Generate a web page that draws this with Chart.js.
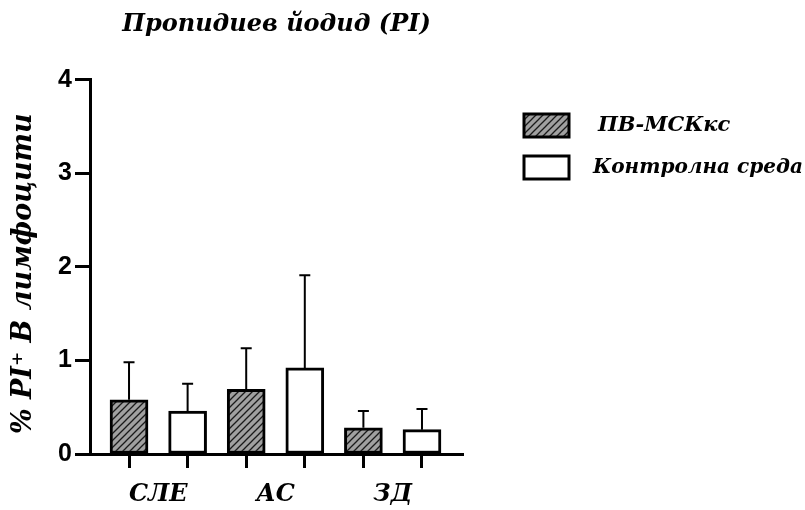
<!DOCTYPE html>
<html><head><meta charset="utf-8">
<script src="https://cdn.jsdelivr.net/npm/chart.js@4.4.1/dist/chart.umd.min.js"></script>
<style>html,body{margin:0;padding:0;background:#fff}#wrap{width:805px;height:510px}</style>
</head><body><div id="wrap"><canvas id="c" width="805" height="510"></canvas></div>
<script>
const categories = ['СЛЕ', 'АС', 'ЗД'];
const seriesNames = ['ПВ-МСКкс', 'Контролна среда'];
const pvValues = [0.58, 0.69, 0.28];
const pvErrors = [0.40, 0.44, 0.18];
const ctrlValues = [0.46, 0.92, 0.26];
const ctrlErrors = [0.29, 0.99, 0.22];
const yTicks = [0, 1, 2, 3, 4];

const SERIF = '"DejaVu Serif", "Liberation Serif", serif';
const SANS = '"Liberation Sans", Arial, sans-serif';

function hatch() {
  const s = 7, c = document.createElement('canvas');
  c.width = s; c.height = s;
  const g = c.getContext('2d');
  g.fillStyle = '#a0a0a0'; g.fillRect(0, 0, s, s);
  g.strokeStyle = '#1a1a1a'; g.lineWidth = 1.3;
  g.beginPath();
  g.moveTo(-1, s + 1); g.lineTo(s + 1, -1);
  g.moveTo(-2, 2); g.lineTo(2, -2);
  g.moveTo(s - 2, s + 2); g.lineTo(s + 2, s - 2);
  g.stroke();
  return g.createPattern(c, 'repeat');
}
const pattern = hatch();

const pvPoints = pvValues.map((v, i) => ({x: i * 2, y: v}));
const ctrlPoints = ctrlValues.map((v, i) => ({x: i * 2 + 1, y: v}));
const xTickVals = [];
categories.forEach((c, i) => { xTickVals.push(i * 2, i * 2 + 0.5, i * 2 + 1); });

const errorBars = {
  id: 'errorBars',
  afterDatasetsDraw(chart) {
    const ctx = chart.ctx, ys = chart.scales.y;
    chart.data.datasets.forEach((ds, di) => {
      const meta = chart.getDatasetMeta(di);
      meta.data.forEach((el, i) => {
        const v = ds.data[i].y, e = ds.errors[i];
        const yTop = ys.getPixelForValue(v + e);
        const yBar = ys.getPixelForValue(v);
        ctx.save();
        ctx.strokeStyle = '#000'; ctx.lineWidth = 2;
        ctx.beginPath();
        ctx.moveTo(el.x, yBar); ctx.lineTo(el.x, yTop);
        ctx.moveTo(el.x - 5.5, yTop); ctx.lineTo(el.x + 5.5, yTop);
        ctx.stroke();
        ctx.restore();
      });
    });
  }
};

const customLegend = {
  id: 'customLegend',
  afterDraw(chart) {
    const ctx = chart.ctx;
    const items = [
      {box: [524, 114, 45, 23], tx: 598, ty: 126},
      {box: [524, 156, 45, 23], tx: 593, ty: 168}
    ];
    chart.data.datasets.forEach((ds, i) => {
      const it = items[i];
      ctx.save();
      ctx.fillStyle = ds.backgroundColor;
      ctx.fillRect(...it.box);
      ctx.strokeStyle = '#000'; ctx.lineWidth = 3;
      ctx.strokeRect(...it.box);
      ctx.fillStyle = '#000';
      ctx.font = 'italic bold 21px ' + SERIF;
      ctx.textBaseline = 'middle';
      ctx.fillText(ds.label, it.tx, it.ty, 210);
      ctx.restore();
    });
  }
};

new Chart(document.getElementById('c'), {
  type: 'bar',
  data: {
    datasets: [
      {label: seriesNames[0], data: pvPoints, errors: pvErrors, backgroundColor: pattern,
       borderColor: '#000', borderWidth: 3, borderSkipped: false, barThickness: 38, grouped: false},
      {label: seriesNames[1], data: ctrlPoints, errors: ctrlErrors, backgroundColor: '#ffffff',
       borderColor: '#000', borderWidth: 3, borderSkipped: false, barThickness: 38, grouped: false}
    ]
  },
  options: {
    responsive: false,
    animation: false,
    layout: {padding: {left: 0, right: 342, top: 0, bottom: 0}},
    plugins: {
      legend: {display: false},
      tooltip: {enabled: false},
      title: {
        display: true, text: 'Пропидиев йодид (PI)', fullSize: false,
        color: '#000', font: {family: SERIF, size: 24, weight: 'bold', style: 'italic'},
        padding: {top: 10, bottom: 41}
      }
    },
    scales: {
      x: {
        type: 'linear', min: -0.666, max: 5.70, offset: false,
        afterBuildTicks: s => { s.ticks = xTickVals.map(v => ({value: v})); },
        afterFit: s => { s.height = 56; },
        ticks: {
          autoSkip: false, maxRotation: 0, padding: 12, color: '#000',
          font: {family: SERIF, size: 24, weight: 'bold', style: 'italic'},
          callback: v => (v % 1 !== 0) ? categories[Math.floor(v / 2)] : ''
        },
        grid: {
          offset: false, drawOnChartArea: false, tickLength: 14, tickWidth: 3,
          tickColor: c => (c.tick && c.tick.value % 1 === 0) ? '#000' : 'rgba(0,0,0,0)'
        },
        border: {color: '#000', width: 3}
      },
      y: {
        min: 0, max: 4,
        afterBuildTicks: s => { s.ticks = yTicks.map(v => ({value: v})); },
        afterFit: s => { s.width = 90; },
        ticks: {color: '#000', padding: 3, font: {family: SANS, size: 25, weight: 'bold'}},
        grid: {drawOnChartArea: false, tickLength: 15, tickWidth: 3, tickColor: '#000'},
        border: {color: '#000', width: 3},
        title: {
          display: true, text: '% PI⁺ В лимфоцити\u2002', color: '#000',
          font: {family: SERIF, size: 27, weight: 'bold', style: 'italic'},
          padding: {top: 8, bottom: 0}
        }
      }
    }
  },
  plugins: [errorBars, customLegend]
});
</script></body></html>
